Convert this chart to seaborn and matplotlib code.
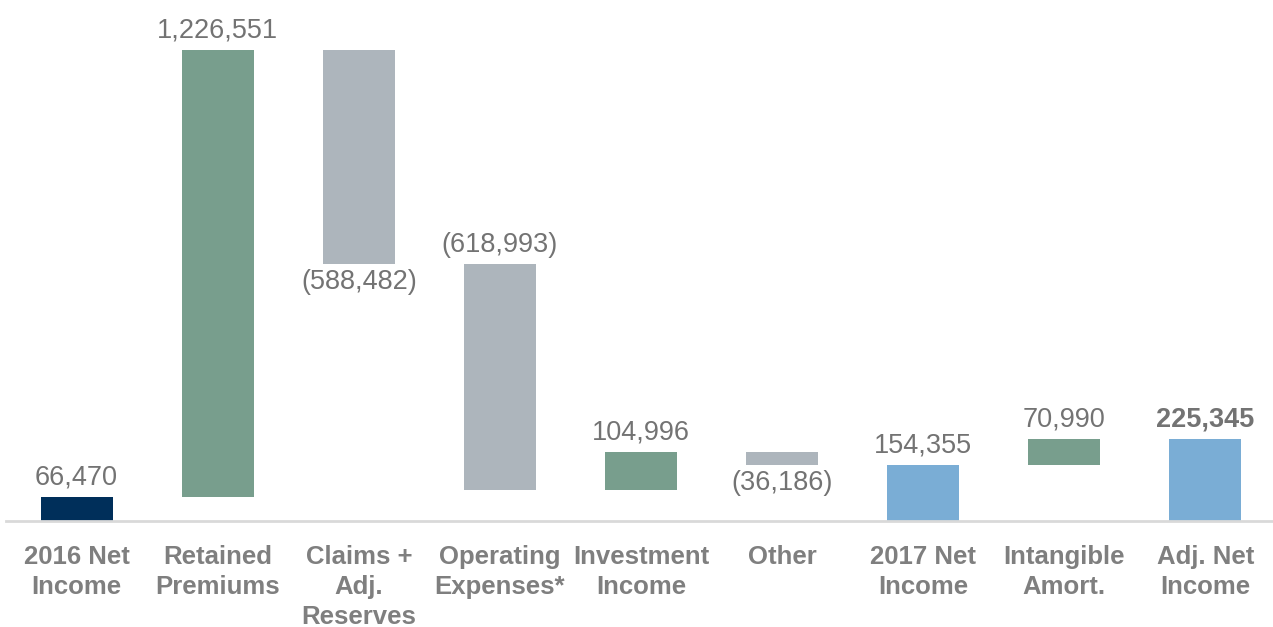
import matplotlib
matplotlib.use("Agg")
import matplotlib.pyplot as plt
import numpy as np
import pandas as pd
import seaborn as sns

# Net income bridge, 2016 -> adjusted 2017
categories = [
    "2016 Net\nIncome", "Retained\nPremiums", "Claims +\nAdj.\nReserves",
    "Operating\nExpenses*", "Investment\nIncome", "Other",
    "2017 Net\nIncome", "Intangible\nAmort.", "Adj. Net\nIncome",
]
values = [66470, 1226551, -588482, -618993, 104996, -36186, 154355, 70990, 225345]
is_total = [True, False, False, False, False, False, True, False, True]
label_side = ["above", "above", "below", "above", "above", "below", "above", "above", "above"]

NAVY = "#002F5A"
GREEN = "#789E8D"
GREY = "#ADB5BC"
BLUE = "#7AADD5"
TEXT = "#737373"

# floating bar extents
bottoms, heights = [], []
running = 0
for v, tot in zip(values, is_total):
    if tot:
        bottoms.append(0)
        heights.append(v)
        running = v
    else:
        if v >= 0:
            bottoms.append(running)
        else:
            bottoms.append(running + v)
        heights.append(abs(v))
        running += v

colors = []
for i, (v, tot) in enumerate(zip(values, is_total)):
    if tot:
        colors.append(NAVY if i == 0 else BLUE)
    else:
        colors.append(GREEN if v >= 0 else GREY)

df = pd.DataFrame({"category": categories, "height": heights})

sns.set_theme(style="white")
plt.rcParams["font.family"] = ["Liberation Sans", "DejaVu Sans"]

fig = plt.figure(figsize=(12.73, 6.27), dpi=100)
ax = fig.add_axes([6 / 1273, 106 / 627, 1270 / 1273, 521 / 627])

sns.barplot(data=df, x="category", y="height", order=categories,
            bottom=np.array(bottoms), errorbar=None, width=0.51,
            color=GREY, linewidth=0, ax=ax)
for patch, c in zip(ax.patches, colors):
    patch.set_facecolor(c)
    patch.set_edgecolor("none")

ax.set_xlim(-0.5, len(categories) - 0.5)
ax.set_ylim(0, 1430000)

# value labels
for i, (v, b, h, side) in enumerate(zip(values, bottoms, heights, label_side)):
    txt = f"{v:,}" if v >= 0 else f"({abs(v):,})"
    bold = i == len(values) - 1
    if side == "above":
        y, dy = b + h, 14
    else:
        y, dy = b, -13
    ax.annotate(txt, (i, y), xytext=(0, dy), textcoords="offset points",
                ha="center", va="center", fontsize=19.5, color=TEXT,
                fontweight="bold" if bold else "normal")

for s in ["top", "right", "left"]:
    ax.spines[s].set_visible(False)
ax.spines["bottom"].set_color("#D9D9D9")
ax.spines["bottom"].set_linewidth(2)
ax.set_yticks([])
ax.set_xlabel("")
ax.set_ylabel("")
ax.tick_params(axis="x", length=0, pad=17)
ax.set_xticks(range(len(categories)))
ax.set_xticklabels(categories, fontsize=18.5, fontweight="bold", color="#7F7F7F",
                   linespacing=1.33, va="top")

fig.savefig("out.png", dpi=100)
